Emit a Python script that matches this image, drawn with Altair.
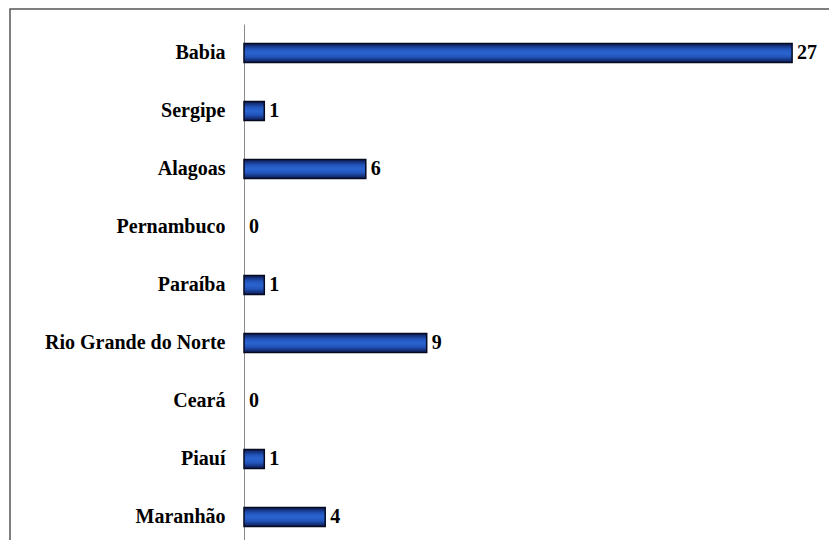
import altair as alt
import pandas as pd

estados = ["Babia", "Sergipe", "Alagoas", "Pernambuco", "Paraíba",
           "Rio Grande do Norte", "Ceará", "Piauí", "Maranhão"]
valores = [27, 1, 6, 0, 1, 9, 0, 1, 4]

df = pd.DataFrame({"estado": estados, "valor": valores})

W, H = 585, 516
FONT = "Liberation Serif"

y_enc = alt.Y(
    "estado:N", sort=estados,
    scale=alt.Scale(range=[0, 522], paddingInner=0.672, paddingOuter=0.336),
    axis=alt.Axis(title=None, ticks=False, labelFont=FONT, labelFontWeight="bold",
                  labelFontSize=20, labelColor="black", labelPadding=19, labelLimit=400,
                  domainColor="#8a8a8a", domainWidth=1, grid=False),
)
x_enc = alt.X("valor:Q", scale=alt.Scale(domain=[0, 585 / 20.3], nice=False, zero=True), axis=None)

grad = alt.Gradient(
    gradient="linear", x1=0, y1=0, x2=0, y2=1,
    stops=[
        alt.GradientStop(color="#0c1a50", offset=0),
        alt.GradientStop(color="#2255bc", offset=0.3),
        alt.GradientStop(color="#2a64cf", offset=0.5),
        alt.GradientStop(color="#2255bc", offset=0.7),
        alt.GradientStop(color="#0c1a50", offset=1),
    ],
)

bars = alt.Chart(df).transform_filter("datum.valor > 0").mark_bar(
    fill=grad, stroke="#050a20", strokeWidth=1.5
).encode(x=x_enc, y=y_enc)

labels = alt.Chart(df).mark_text(
    align="left", baseline="middle", dx=5, font=FONT, fontWeight="bold",
    fontSize=20, color="black"
).encode(x=x_enc, y=y_enc, text="valor:Q")

frame = alt.Chart(pd.DataFrame({"a": [0]})).mark_rect(
    fill=None, stroke="#555555", strokeWidth=1.5
).encode(x=alt.value(-234), x2=alt.value(800), y=alt.value(-15), y2=alt.value(700))

chart = alt.layer(frame, bars, labels).properties(
    width=W, height=H,
    autosize=alt.AutoSizeParams(type="none"),
    padding={"left": 244, "top": 24, "right": 0, "bottom": 0},
).configure_view(stroke=None)

chart.save("out.html", embed_options={"renderer": "svg", "actions": False})
